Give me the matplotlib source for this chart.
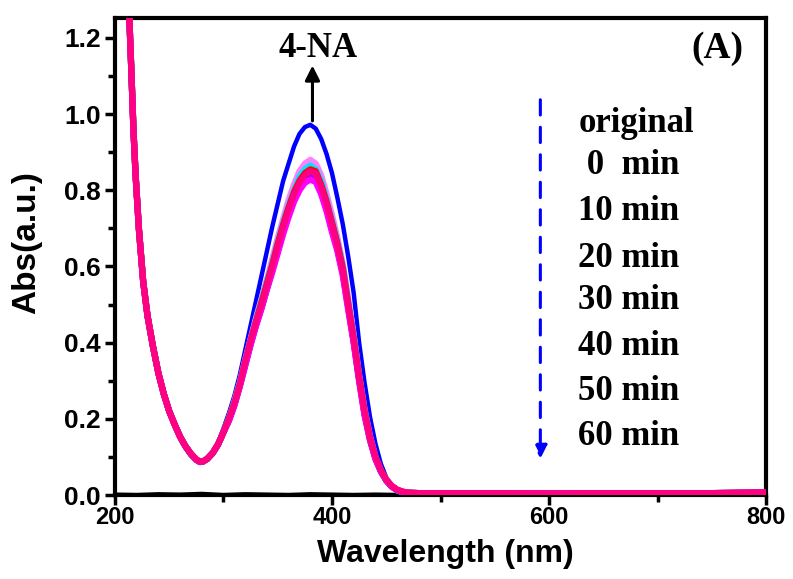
import matplotlib
matplotlib.use("Agg")
import matplotlib.pyplot as plt
from matplotlib.ticker import MultipleLocator

# wavelength grids (nm)
wl_left = [205, 210, 213, 215, 217, 219, 222, 226, 230, 235, 240, 245, 250, 255,
           260, 265, 270, 275, 278, 281, 285, 290, 295, 300]
wl_peak = [305, 310, 315, 320, 325, 330, 335, 340, 345, 350, 355, 360, 365, 370,
           375, 380, 385, 390, 395, 400, 405, 410, 415, 420, 425, 430, 435, 440,
           445, 450, 455, 460, 465]
wl_tail = [470, 480, 500, 520, 550, 600, 650, 700, 750, 780, 800]

# absorbance, short-wavelength wing shared by all spectra
abs_left = [1.60, 1.45, 1.27, 1.12, 0.96, 0.84, 0.70, 0.56, 0.47, 0.39, 0.32,
            0.265, 0.22, 0.185, 0.153, 0.128, 0.108, 0.093, 0.088, 0.088, 0.095,
            0.11, 0.133, 0.165]
abs_left_orig = [1.60, 1.44, 1.26, 1.11, 0.95, 0.83, 0.69, 0.55, 0.46, 0.385, 0.315,
                 0.26, 0.215, 0.18, 0.148, 0.123, 0.103, 0.089, 0.084, 0.085, 0.093,
                 0.11, 0.137, 0.175]

# absorbance around the 4-NA band
abs_orig = [0.215, 0.26, 0.315, 0.38, 0.445, 0.51, 0.575, 0.64, 0.705, 0.765, 0.825,
            0.87, 0.915, 0.948, 0.966, 0.972, 0.962, 0.935, 0.895, 0.845, 0.78, 0.71,
            0.625, 0.53, 0.40, 0.295, 0.205, 0.135, 0.082, 0.046, 0.025, 0.012, 0.006]
abs_0 = [0.20, 0.245, 0.295, 0.355, 0.41, 0.465, 0.515, 0.565, 0.62, 0.675, 0.725,
         0.775, 0.815, 0.85, 0.87, 0.88, 0.87, 0.84, 0.79, 0.735, 0.675, 0.605, 0.515,
         0.42, 0.315, 0.225, 0.155, 0.10, 0.065, 0.04, 0.024, 0.014, 0.009]
abs_10 = [0.20, 0.24, 0.29, 0.35, 0.405, 0.46, 0.51, 0.56, 0.61, 0.665, 0.715, 0.76,
          0.80, 0.835, 0.855, 0.865, 0.855, 0.825, 0.775, 0.72, 0.665, 0.60, 0.505,
          0.415, 0.31, 0.22, 0.15, 0.098, 0.063, 0.038, 0.022, 0.012, 0.007]
abs_20 = [0.20, 0.24, 0.29, 0.35, 0.405, 0.455, 0.505, 0.555, 0.605, 0.66, 0.71, 0.755,
          0.795, 0.825, 0.845, 0.855, 0.85, 0.815, 0.77, 0.715, 0.66, 0.595, 0.50,
          0.41, 0.31, 0.22, 0.15, 0.10, 0.065, 0.04, 0.024, 0.014, 0.009]
abs_30 = [0.20, 0.24, 0.29, 0.345, 0.40, 0.45, 0.495, 0.545, 0.595, 0.65, 0.70, 0.745,
          0.785, 0.815, 0.835, 0.845, 0.84, 0.805, 0.76, 0.705, 0.65, 0.585, 0.495,
          0.405, 0.305, 0.215, 0.145, 0.097, 0.063, 0.039, 0.023, 0.013, 0.008]
abs_40 = [0.195, 0.235, 0.285, 0.34, 0.395, 0.445, 0.49, 0.54, 0.59, 0.64, 0.69, 0.735,
          0.775, 0.805, 0.825, 0.835, 0.83, 0.795, 0.75, 0.695, 0.645, 0.58, 0.49,
          0.40, 0.30, 0.21, 0.145, 0.095, 0.062, 0.038, 0.022, 0.013, 0.008]
abs_50 = [0.195, 0.235, 0.285, 0.34, 0.395, 0.445, 0.49, 0.54, 0.585, 0.635, 0.685,
          0.73, 0.77, 0.80, 0.82, 0.828, 0.822, 0.79, 0.745, 0.69, 0.64, 0.575, 0.485,
          0.40, 0.30, 0.21, 0.145, 0.095, 0.062, 0.038, 0.022, 0.013, 0.008]
abs_60 = [0.20, 0.24, 0.29, 0.35, 0.405, 0.455, 0.50, 0.55, 0.60, 0.655, 0.705, 0.75,
          0.79, 0.82, 0.84, 0.85, 0.845, 0.81, 0.765, 0.71, 0.655, 0.59, 0.50, 0.41,
          0.31, 0.22, 0.15, 0.10, 0.065, 0.04, 0.024, 0.014, 0.009]

# long-wavelength baseline
abs_tail = [0.006, 0.005, 0.005, 0.005, 0.005, 0.004, 0.005, 0.005, 0.005, 0.006, 0.007]
abs_tail_orig = [0.003, 0.002, 0.002, 0.002, 0.002, 0.002, 0.002, 0.003, 0.003, 0.003, 0.004]

# blank (black trace)
wl_blank = [200, 220, 240, 260, 280, 300, 320, 340, 360, 380, 400, 420, 440, 460, 480]
abs_blank = [0.004, 0.003, 0.005, 0.004, 0.006, 0.003, 0.005, 0.004, 0.003, 0.005,
             0.004, 0.003, 0.004, 0.003, 0.003]

legend_labels = ["original", " 0  min", "10 min", "20 min", "30 min", "40 min",
                 "50 min", "60 min"]

series = [
    (abs_0, "#ff80ff"),
    (abs_10, "#00e5ff"),
    (abs_20, "#ff0000"),
    (abs_30, "#00ff00"),
    (abs_40, "#8000ff"),
    (abs_50, "#ff00ff"),
    (abs_60, "#ff0080"),
]

serif = "Liberation Serif"
sans = "Liberation Sans"

fig = plt.figure(figsize=(7.93, 5.79), dpi=100)
ax = fig.add_axes([0.145, 0.145, 0.821, 0.824])

ax.plot(wl_blank, abs_blank, color="black", lw=1.5, zorder=2)
ax.plot(wl_left + wl_peak + wl_tail, abs_left_orig + abs_orig + abs_tail_orig,
        color="#0000ff", lw=3.2, zorder=3)
for vals, col in series:
    ax.plot(wl_left + wl_peak + wl_tail, abs_left + vals + abs_tail,
            color=col, lw=4.5, zorder=4)

ax.set_xlim(200, 800)
ax.set_ylim(0, 1.2525)

# arrows
ax.annotate("", xy=(382, 1.135), xytext=(382, 0.975),
            arrowprops=dict(arrowstyle="-|>", color="black", lw=2.2,
                            mutation_scale=22), zorder=6)
ax.annotate("", xy=(592, 0.088), xytext=(592, 1.045),
            arrowprops=dict(arrowstyle="-|>", color="#0000ff", lw=2.2,
                            linestyle=(0, (5, 4)), mutation_scale=20), zorder=6)

ax.text(387, 1.173, "4-NA", family=serif, weight="bold", fontsize=25,
        ha="center", va="center")
ax.text(0.926, 0.936, "(A)", transform=ax.transAxes, family=serif, weight="bold",
        fontsize=27, ha="center", va="center")

row_px = [123, 165, 211, 258, 300, 346, 391, 436]
for lab, y in zip(legend_labels, row_px):
    ax.text(627, (495 - y) / 381, lab, family=serif, weight="bold", fontsize=25,
            ha="left", va="center")

ax.xaxis.set_major_locator(MultipleLocator(200))
ax.xaxis.set_minor_locator(MultipleLocator(100))
ax.yaxis.set_major_locator(MultipleLocator(0.2))
ax.yaxis.set_minor_locator(MultipleLocator(0.1))
ax.yaxis.set_major_formatter(matplotlib.ticker.FormatStrFormatter("%.1f"))

ax.tick_params(which="major", direction="out", length=7, width=2.5,
               labelsize=19, pad=3)
ax.tick_params(axis="x", which="major", labelsize=17, pad=1)
ax.tick_params(which="minor", direction="out", length=5, width=2.5)
for lab in ax.get_xticklabels() + ax.get_yticklabels():
    lab.set_family(sans)
    lab.set_weight("bold")

for sp in ax.spines.values():
    sp.set_linewidth(3)

ax.set_xlabel("Wavelength (nm)", family=sans, weight="bold", fontsize=23)
ax.set_ylabel("Abs(a.u.)", family=sans, weight="bold", fontsize=24)
ax.xaxis.set_label_coords(0.507, -0.092)
ax.yaxis.set_label_coords(-0.112, 0.53)

fig.savefig("out.png", dpi=100)
